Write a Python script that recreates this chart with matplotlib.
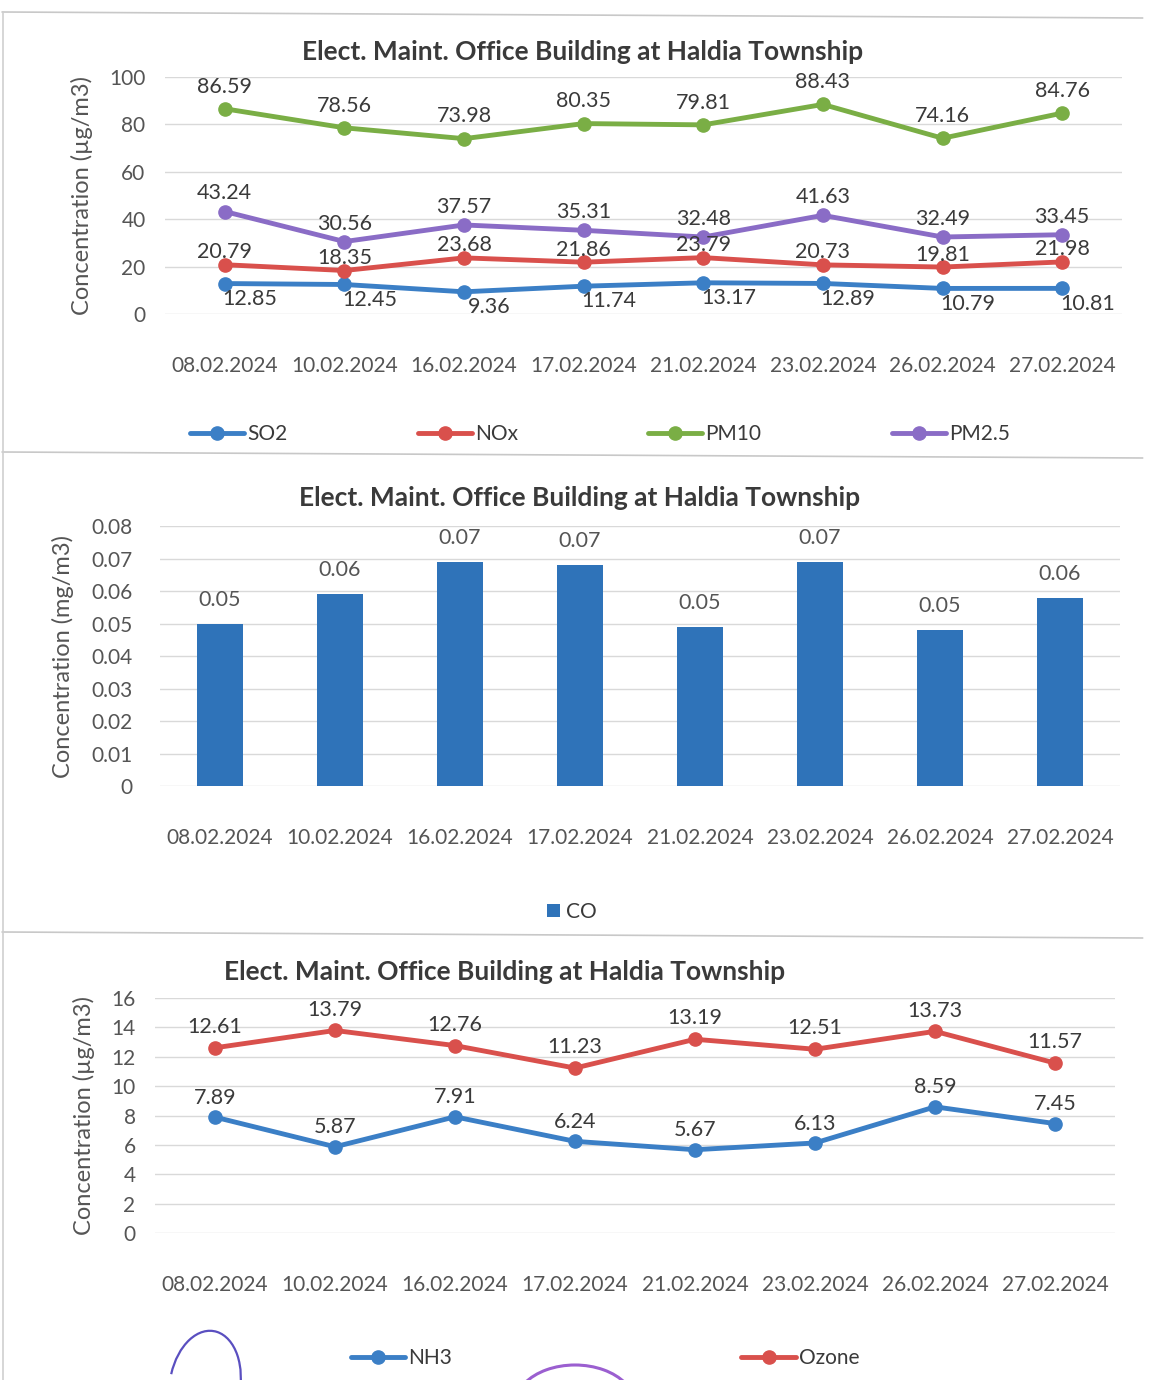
"""Ambient air quality charts for the Elect. Maint. Office Building, Haldia Township."""

from __future__ import annotations

import matplotlib

matplotlib.use("Agg")

import matplotlib.pyplot as plt
import numpy as np
from matplotlib.lines import Line2D
from matplotlib.patches import Arc

plt.rcParams["font.family"] = ["Lato", "DejaVu Sans"]

TITLE = "Elect. Maint. Office Building at Haldia Township"
DATES = [
    "08.02.2024", "10.02.2024", "16.02.2024", "17.02.2024",
    "21.02.2024", "23.02.2024", "26.02.2024", "27.02.2024",
]

# gaseous / particulate pollutants, µg/m3
so2 = [12.85, 12.45, 9.36, 11.74, 13.17, 12.89, 10.79, 10.81]
nox = [20.79, 18.35, 23.68, 21.86, 23.79, 20.73, 19.81, 21.98]
pm10 = [86.59, 78.56, 73.98, 80.35, 79.81, 88.43, 74.16, 84.76]
pm25 = [43.24, 30.56, 37.57, 35.31, 32.48, 41.63, 32.49, 33.45]

# carbon monoxide, mg/m3
co = [0.050, 0.059, 0.069, 0.068, 0.049, 0.069, 0.048, 0.058]

# ammonia and ozone, µg/m3
nh3 = [7.89, 5.87, 7.91, 6.24, 5.67, 6.13, 8.59, 7.45]
ozone = [12.61, 13.79, 12.76, 11.23, 13.19, 12.51, 13.73, 11.57]

W, H = 1154, 1380
TEXT = "#3a3a3a"
TICK = "#555555"
GRID = "#d9d9d9"
BLUE = "#3b7fc6"
RED = "#d9504c"
GREEN = "#7aae45"
PURPLE = "#8a6cc6"
BAR = "#2f73b9"
FS = 15


def _axes(fig: plt.Figure, left: float, top: float, right: float, bottom: float) -> plt.Axes:
    """Add axes placed by pixel box (left, top, right, bottom)."""
    return fig.add_axes([left / W, 1 - bottom / H, (right - left) / W, (bottom - top) / H])


def _style(ax: plt.Axes, ylim: tuple[float, float], yticks: np.ndarray, fmt: str, ylabel: str) -> None:
    """Excel-like styling: light horizontal grid, no spines, no tick marks."""
    ax.set_xlim(-0.5, len(DATES) - 0.5)
    ax.set_ylim(*ylim)
    ax.set_yticks(yticks)
    ax.set_yticklabels([fmt.format(v) for v in yticks])
    ax.set_xticks(np.arange(len(DATES)))
    ax.set_xticklabels(DATES)
    ax.grid(axis="y", color=GRID, linewidth=1.0)
    ax.set_axisbelow(True)
    for spine in ax.spines.values():
        spine.set_visible(False)
    ax.tick_params(length=0, labelsize=FS, colors=TICK)
    ax.tick_params(axis="x", pad=30)
    ax.tick_params(axis="y", pad=14)
    ax.set_ylabel(ylabel, fontsize=FS + 2, color=TICK, labelpad=12)


def _title(fig: plt.Figure, x: float, y: float) -> None:
    """Chart title centred on the chart area at figure pixel (x, y)."""
    fig.text(x / W, 1 - y / H, TITLE, ha="center", va="center", fontsize=FS + 4,
             fontweight="bold", color=TEXT)


def _series(ax: plt.Axes, values: list[float], color: str, label: str, dx: float, dy: float) -> None:
    """Draw one line series with round markers and value labels."""
    x = np.arange(len(values))
    ax.plot(x, values, color=color, lw=3.5, marker="o", ms=9.5, label=label, solid_capstyle="round")
    for xi, v in zip(x, values):
        ax.annotate(f"{v:.2f}", (xi, v), xytext=(dx, dy), textcoords="offset points",
                    ha="center", va="center", fontsize=FS + 0.5, color=TEXT)


def _legend(fig: plt.Figure, handles: list, labels: list[str], x: float, y: float, spacing: float) -> None:
    """Single-row legend below a chart, centred on figure pixel (x, y)."""
    fig.legend(handles, labels, loc="center", bbox_to_anchor=(x / W, 1 - y / H), ncol=len(labels),
               frameon=False, fontsize=FS, handlelength=2.6, handletextpad=0.15,
               columnspacing=spacing, labelcolor=TEXT)


fig = plt.figure(figsize=(W / 100, H / 100), dpi=100)
fig.patch.set_facecolor("white")

# panel frames
for y in (12, 452, 932):
    fig.add_artist(Line2D([0.002, 0.99], [1 - y / H, 1 - (y + 6) / H], color="#c8c8c8", lw=1.2))
fig.add_artist(Line2D([0.003, 0.003], [1 - 12 / H, 0.0], color="#cfcfcf", lw=1.2))

# --- SO2 / NOx / PM10 / PM2.5 ---
ax1 = _axes(fig, 165, 77, 1122, 314)
_style(ax1, (0, 100), np.arange(0, 101, 20), "{:.0f}", "Concentration (µg/m3)")
_title(fig, 583, 52)
_series(ax1, so2, BLUE, "SO2", 18, -11)
_series(ax1, nox, RED, "NOx", 0, 9)
_series(ax1, pm10, GREEN, "PM10", 0, 16)
_series(ax1, pm25, PURPLE, "PM2.5", 0, 13)
h1, l1 = ax1.get_legend_handles_labels()
_legend(fig, h1, l1, 600, 434, 6.25)

# --- CO ---
ax2 = _axes(fig, 160, 526, 1120, 786)
_style(ax2, (0, 0.08), np.round(np.arange(0, 0.081, 0.01), 2), "{:g}", "Concentration (mg/m3)")
_title(fig, 580, 498)
bars = ax2.bar(np.arange(len(co)), co, width=0.39, color=BAR, label="CO")
ax2.bar_label(bars, labels=[f"{v:.2f}" for v in co], padding=10, fontsize=FS + 0.5, color=TICK)
ax2.tick_params(axis="y", pad=20)
h2, l2 = ax2.get_legend_handles_labels()
fig.legend(h2, l2, loc="center", bbox_to_anchor=(572 / W, 1 - 912 / H), frameon=False,
           fontsize=FS, handlelength=0.6, handleheight=0.6, handletextpad=0.3, labelcolor=TEXT)

# --- NH3 / Ozone ---
ax3 = _axes(fig, 155, 998, 1115, 1233)
_style(ax3, (0, 16), np.arange(0, 17, 2), "{:.0f}", "Concentration (µg/m3)")
_title(fig, 505, 972)
_series(ax3, nh3, BLUE, "NH3", 0, 14)
_series(ax3, ozone, RED, "Ozone", 0, 15)
h3, l3 = ax3.get_legend_handles_labels()
_legend(fig, h3, l3, 605, 1358, 13.9)

# signature strokes along the bottom edge
fig.add_artist(Arc((205 / W, 1 - 1385 / H), 70 / W, 110 / H, angle=-15, theta1=0, theta2=180,
                   color="#5a4fc0", lw=1.6, transform=fig.transFigure))
fig.add_artist(Arc((575 / W, 1 - 1405 / H), 120 / W, 80 / H, theta1=20, theta2=160,
                   color="#9b5fd0", lw=2.2, transform=fig.transFigure))

fig.savefig("out.png", dpi=100)
